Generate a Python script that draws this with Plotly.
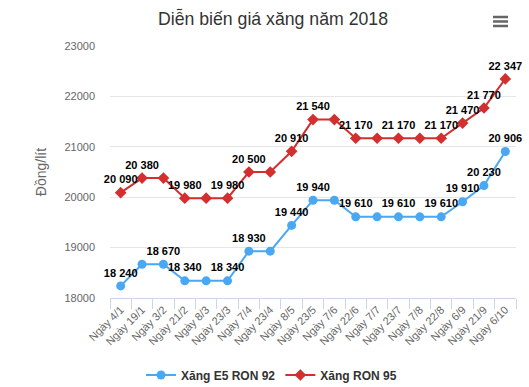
import plotly.graph_objects as go

categories = ["Ngày 4/1", "Ngày 19/1", "Ngày 3/2", "Ngày 21/2", "Ngày 8/3", "Ngày 23/3",
              "Ngày 7/4", "Ngày 23/4", "Ngày 8/5", "Ngày 23/5", "Ngày 7/6", "Ngày 22/6",
              "Ngày 7/7", "Ngày 23/7", "Ngày 7/8", "Ngày 22/8", "Ngày 6/9", "Ngày 21/9", "Ngày 6/10"]
e5_ron92 = [18240, 18670, 18670, 18340, 18340, 18340, 18930, 18930, 19440, 19940, 19940,
            19610, 19610, 19610, 19610, 19610, 19910, 20230, 20906]
ron95 = [20090, 20380, 20380, 19980, 19980, 19980, 20500, 20500, 20910, 21540, 21540,
         21170, 21170, 21170, 21170, 21170, 21470, 21770, 22347]
# which data labels are visible (others hidden due to overlap in original)
e5_show = [1, 0, 1, 1, 0, 1, 1, 0, 1, 1, 0, 1, 0, 1, 0, 1, 1, 1, 1]
r95_show = [1, 1, 0, 1, 0, 1, 1, 0, 1, 1, 0, 1, 0, 1, 0, 1, 1, 1, 1]
y_ticks = [18000, 19000, 20000, 21000, 22000, 23000]

def fmt(v):
    return f"{v:,}".replace(",", " ")

e5_text = [fmt(v) if s else "" for v, s in zip(e5_ron92, e5_show)]
r95_text = [fmt(v) if s else "" for v, s in zip(ron95, r95_show)]

BLUE = "#4aa8f2"
RED = "#d32f2f"
FONT = "Liberation Sans, Arial, sans-serif"

fig = go.Figure()
fig.add_trace(go.Scatter(
    x=categories, y=e5_ron92, name="Xăng E5 RON 92", mode="lines+markers+text",
    line=dict(color=BLUE, width=2), marker=dict(color=BLUE, size=9, symbol="circle"),
    text=e5_text, textposition="top center",
    textfont=dict(family=FONT, size=11, color="#000000", weight="bold"),
    cliponaxis=False,
))
fig.add_trace(go.Scatter(
    x=categories, y=ron95, name="Xăng RON 95", mode="lines+markers+text",
    line=dict(color=RED, width=2), marker=dict(color=RED, size=9, symbol="diamond"),
    text=r95_text, textposition="top center",
    textfont=dict(family=FONT, size=11, color="#000000", weight="bold"),
    cliponaxis=False,
))

W, H = 529, 387
L, R, T, B = 110, 13, 46, 89
pw, ph = W - L - R, H - T - B

def px(x):
    return (x - L) / pw

def py(y):
    return (H - B - y) / ph

shapes = []
for yy in (17, 21.5, 26):
    shapes.append(dict(type="line", xref="paper", yref="paper",
                       x0=px(493), x1=px(508), y0=py(yy), y1=py(yy),
                       line=dict(color="#666666", width=2.5)))

fig.update_layout(
    width=W, height=H,
    margin=dict(l=L, r=R, t=T, b=B, autoexpand=False),
    paper_bgcolor="white", plot_bgcolor="white",
    font=dict(family=FONT, color="#666666", size=11),
    title=dict(text="Diễn biến giá xăng năm 2018", x=273 / W, xanchor="center",
               y=1 - 19 / H, yanchor="middle",
               font=dict(family=FONT, size=17.7, color="#333333")),
    showlegend=True,
    legend=dict(orientation="h", x=px(141), xanchor="left", y=py(375), yanchor="middle",
                font=dict(family=FONT, size=12, color="#333333", weight="bold"),
                itemwidth=30, tracegroupgap=0),
    shapes=shapes,
    xaxis=dict(type="category", range=[-0.5, len(categories) - 0.5], automargin=False,
               showgrid=False, showline=True, linecolor="#ccd6eb", linewidth=1,
               ticks="outside", tickson="boundaries", ticklen=10, tickcolor="#ccd6eb",
               tickangle=-45, tickfont=dict(size=11, color="#666666")),
    yaxis=dict(range=[18000, 23000], tickvals=y_ticks, ticktext=[str(v) for v in y_ticks],
               automargin=False,
               showgrid=True, gridcolor="#e6e6e6", gridwidth=1, zeroline=False,
               showline=False, ticklabelstandoff=14,
               tickfont=dict(size=11, color="#666666"),
               title=dict(text="Đồng/lít", standoff=14,
                          font=dict(size=14, color="#666666"))),
)

fig.write_html("out.html", config={"displayModeBar": False},
               post_script="document.body.style.margin='0px';")
